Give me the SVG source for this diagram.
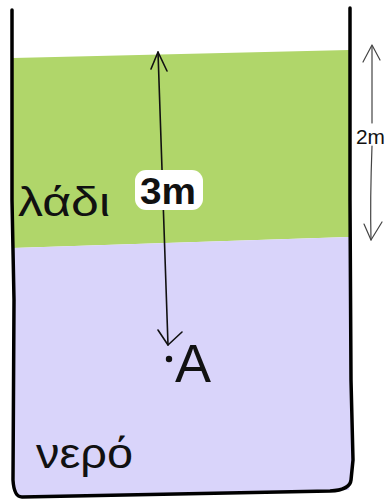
<svg xmlns="http://www.w3.org/2000/svg" width="387" height="501" viewBox="0 0 387 501">
<style>
.wall{fill:none;stroke:#000;stroke-width:3.5;stroke-linecap:round;stroke-linejoin:round}
.conn{fill:none;stroke:#111;stroke-width:1.6;stroke-linecap:round;stroke-linejoin:round}
.thin{fill:none;stroke:#444;stroke-width:1.2;stroke-linecap:round;stroke-linejoin:round}
.lbl{font-family:"Liberation Sans","DejaVu Sans",sans-serif;fill:#111}
</style>
<rect width="387" height="501" fill="#fff"/>
<g id="oil">
<path d="M13,58 L349,50 L349,237 L13,248 Z" fill="#B0D66A"/>
<text class="lbl" x="18" y="216" font-size="40" textLength="92" lengthAdjust="spacingAndGlyphs">λάδι</text>
</g>
<g id="water">
<path d="M13,248 L349,237 L351,300 L353,470 L349,490 L15,496 Z" fill="#D9D4FA"/>
<text class="lbl" x="36" y="468" font-size="42" textLength="97" lengthAdjust="spacingAndGlyphs">νερό</text>
</g>
<g id="container">
<path class="wall" d="M12,10 L12,200 L14,300 L13,480 Q14,497 22,497 L330,491 Q350,490 351,480 L353,460 L351,380 L350,200 L350,8"/>
</g>
<g id="connectors">
<path class="conn" d="M158,52 Q163,200 168,345"/>
<path class="conn" d="M151,69 L158,52 L167,71"/>
<path class="conn" d="M158,330 L168,345 L182,332"/>
<path class="thin" d="M372,46 L372,123 M372,146 Q370,200 371,240"/>
<path class="thin" d="M363,62 L372,45 L380,60"/>
<path class="thin" d="M364,224 L371,240 L382,222"/>
</g>
<g id="label-3m">
<rect x="135" y="170" width="68" height="40" rx="11" fill="#fff"/>
<text class="lbl" x="140" y="204" font-size="36" font-weight="bold" textLength="56" lengthAdjust="spacingAndGlyphs">3m</text>
</g>
<g id="point-A">
<circle cx="169" cy="359" r="3.2" fill="#111"/>
<text class="lbl" x="175" y="382" font-size="54">A</text>
</g>
<g id="label-2m">
<text class="lbl" x="356" y="144" font-size="21" textLength="29" lengthAdjust="spacingAndGlyphs">2m</text>
</g>
</svg>
